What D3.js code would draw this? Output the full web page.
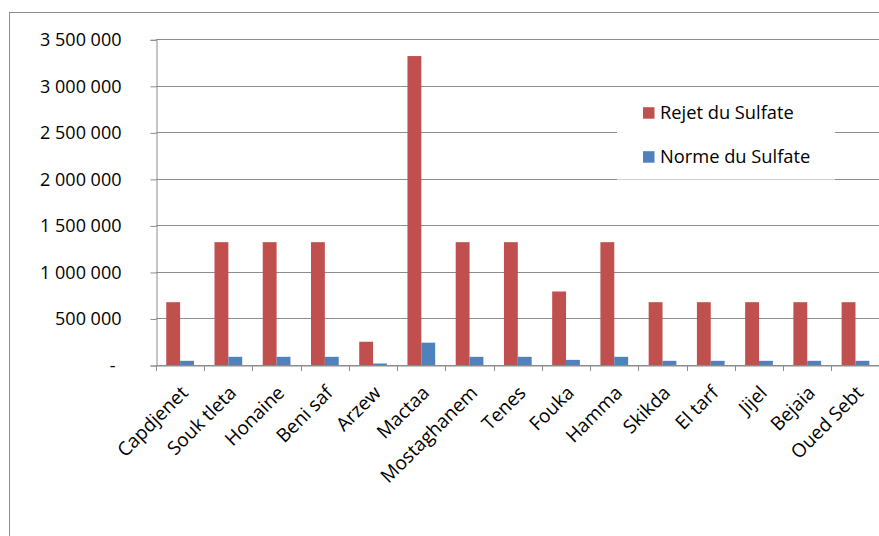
<!DOCTYPE html>
<meta charset="utf-8">
<script src="https://d3js.org/d3.v7.min.js"></script>
<style>
  body { margin: 0; background: #fff; }
  text { font-family: "Open Sans", "Liberation Sans", sans-serif; fill: #000; }
</style>
<div id="chart"></div>
<script>
    // data
    const sites = ["Capdjenet", "Souk tleta", "Honaine", "Beni saf", "Arzew", "Mactaa", "Mostaghanem",
                   "Tenes", "Fouka", "Hamma", "Skikda", "El tarf", "Jijel", "Bejaia", "Oued Sebt"];
    const rejet = [675000, 1320000, 1320000, 1320000, 250000, 3320000, 1320000,
                   1320000, 790000, 1320000, 675000, 675000, 675000, 675000, 675000];
    const norme = [45000, 88000, 88000, 88000, 16000, 240000, 88000,
                   88000, 55000, 88000, 45000, 45000, 45000, 45000, 45000];
    const seriesNames = ["Rejet du Sulfate", "Norme du Sulfate"];
    const yTicks = [0, 500000, 1000000, 1500000, 2000000, 2500000, 3000000, 3500000];

    const W = 879, H = 536;
    const colors = ["#C0504D", "#4F81BD"];

    const svg = d3.select("#chart").append("svg")
        .attr("width", W).attr("height", H);

    // outer frame of the chart area
    svg.append("rect")
        .attr("x", 9.5).attr("y", 12.5)
        .attr("width", W + 20).attr("height", H + 20)
        .attr("fill", "none").attr("stroke", "#8c8c8c");

    const plot = {left: 156, right: 879.6, top: 39.3, bottom: 365};

    const x = d3.scaleBand()
        .domain(sites)
        .range([plot.left, plot.right]);

    const y = d3.scaleLinear()
        .domain([0, 3500000])
        .range([plot.bottom, plot.top]);

    // two bars side by side inside each category
    const inner = d3.scaleBand()
        .domain([0, 1])
        .range([0, x.bandwidth()])
        .paddingOuter(0.74)
        .paddingInner(0);

    const fmt = d3.formatLocale({decimal: ",", thousands: " ", grouping: [3], currency: ["", ""]}).format(",");

    // gridlines
    svg.append("g")
        .selectAll("line")
        .data(yTicks)
        .join("line")
            .attr("x1", plot.left).attr("x2", plot.right)
            .attr("y1", d => Math.round(y(d)) + 0.5)
            .attr("y2", d => Math.round(y(d)) + 0.5)
            .attr("stroke", "#8c8c8c");

    // y axis
    const yAxis = svg.append("g")
        .attr("transform", `translate(${plot.left + 0.5}, 0.5)`)
        .call(d3.axisLeft(y).tickValues(yTicks).tickSize(6).tickPadding(29)
            .tickFormat(d => d === 0 ? "-" : fmt(d)));
    yAxis.select(".domain").attr("stroke", "#8c8c8c");
    yAxis.selectAll(".tick line").attr("stroke", "#8c8c8c");
    yAxis.selectAll("text").attr("font-size", 18).attr("fill", "#000");
    yAxis.selectAll(".tick").filter(d => d === 0).select("text").attr("dx", "-6");

    // bars
    const rows = sites.map((s, i) => ({site: s, vals: [rejet[i], norme[i]]}));
    svg.append("g")
        .selectAll("g")
        .data(rows)
        .join("g")
            .attr("transform", d => `translate(${x(d.site)}, 0)`)
        .selectAll("rect")
        .data(d => d.vals.map((v, k) => ({k: k, v: v})))
        .join("rect")
            .attr("x", d => inner(d.k))
            .attr("width", inner.bandwidth())
            .attr("y", d => y(d.v))
            .attr("height", d => y(0) - y(d.v))
            .attr("fill", d => colors[d.k]);

    // x axis
    const xAxis = svg.append("g")
        .attr("transform", `translate(0, ${Math.round(plot.bottom) + 0.5})`)
        .call(d3.axisBottom(x).tickSize(0).tickFormat(""));
    xAxis.select(".domain").attr("stroke", "#8c8c8c");

    svg.append("g")
        .selectAll("line")
        .data(sites)
        .join("line")
            .attr("x1", d => Math.round(x(d)) + 0.5).attr("x2", d => Math.round(x(d)) + 0.5)
            .attr("y1", plot.bottom).attr("y2", plot.bottom + 6)
            .attr("stroke", "#8c8c8c");

    svg.append("g")
        .selectAll("text")
        .data(sites)
        .join("text")
            .attr("transform", d => `translate(${x(d) + x.bandwidth() / 2 - 1}, ${plot.bottom + 19}) rotate(-45)`)
            .attr("text-anchor", "end")
            .attr("dy", "0.75em")
            .attr("font-size", 19)
            .text(d => d);

    // legend
    const lg = svg.append("g");
    lg.append("rect")
        .attr("x", 617).attr("y", 92)
        .attr("width", 218).attr("height", 87)
        .attr("fill", "#fff");
    lg.append("line")
        .attr("x1", 617).attr("x2", 835)
        .attr("y1", 179.5).attr("y2", 179.5)
        .attr("stroke", "#d0d0d0");
    seriesNames.forEach((name, k) => {
        const cy = 112.7 + k * 44;
        lg.append("rect")
            .attr("x", 643).attr("y", cy - 5.5)
            .attr("width", 11.5).attr("height", 11.5)
            .attr("fill", colors[k]);
        lg.append("text")
            .attr("x", 660).attr("y", cy)
            .attr("dy", "0.35em")
            .attr("font-size", 18.3)
            .text(name);
    });
</script>
